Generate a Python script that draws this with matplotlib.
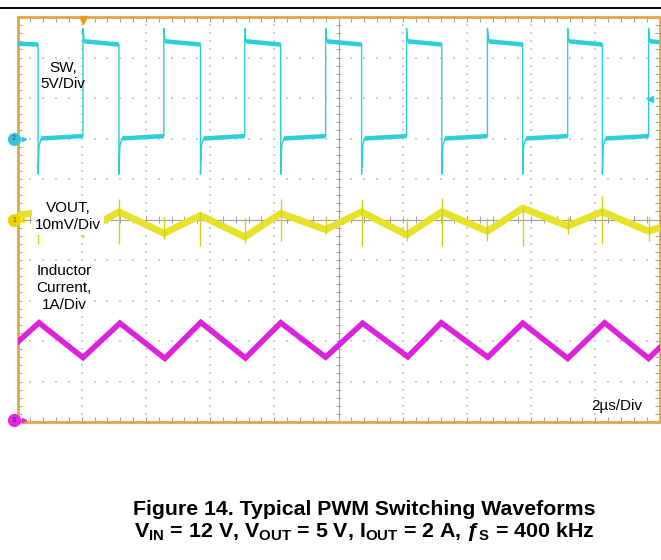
import matplotlib
matplotlib.use('Agg')
import matplotlib.pyplot as plt
import numpy as np
from matplotlib.collections import LineCollection
from matplotlib.lines import Line2D

plt.rcParams['font.family'] = ['Liberation Sans', 'DejaVu Sans']
plt.rcParams['mathtext.fontset'] = 'custom'
plt.rcParams['mathtext.rm'] = 'Liberation Sans'
plt.rcParams['mathtext.bf'] = 'Liberation Sans:bold'
plt.rcParams['mathtext.it'] = 'Liberation Sans:italic'

# ---------------- data ----------------
# time base: 2 us/div, 10 divisions
sw_fall_us = [0.64, 3.16, 5.70, 8.20, 10.72, 13.22, 15.74, 18.22]
sw_rise_us = [2.04, 4.56, 7.08, 9.60, 12.12, 14.64, 17.14, 19.66]
sw_high_v = [12.0, 11.6]          # start / end of on-time level (V)
sw_low_v = [0.0, 0.3]             # start / end of off-time level (V)
sw_overshoot_v = 13.6
sw_undershoot_v = -4.4
sw_ringback_v = -0.9

vout_t_us = [0, 0.64, 2.04, 3.16, 4.56, 5.70, 7.08, 8.20, 9.60, 10.72,
             12.12, 13.22, 14.64, 15.74, 17.14, 18.22, 19.66, 20]
vout_mv = [1.0, 1.8, -3.2, 1.9, -3.4, 1.0, -4.3, 1.5, -2.5, 1.9,
           -3.8, 1.9, -2.9, 2.8, -1.6, 1.9, -2.9, -2.0]
vout_fall_spike_hi = [4.5, 5.0, 1.9, 5.0, 5.0, 5.4, 3.0, 5.8]
vout_fall_spike_lo = [-6.0, -6.0, -6.5, -5.3, -6.5, -6.5, -6.5, -6.0]
vout_rise_spike_hi = [0.5, 0.6, 0.3, 0.6, 0.3, 0.3, 0.6, 0.6]
vout_rise_spike_lo = [-4.5, -4.7, -5.8, -3.5, -5.3, -5.3, -3.5, -5.3]

il_t_us = [0, 0.67, 2.04, 3.19, 4.59, 5.71, 7.10, 8.20, 9.60, 10.75,
           12.16, 13.20, 14.65, 15.74, 17.14, 18.29, 19.66, 20]
il_a = [1.97, 2.45, 1.59, 2.44, 1.57, 2.46, 1.58, 2.45, 1.60, 2.44,
        1.61, 2.45, 1.60, 2.44, 1.57, 2.45, 1.57, 1.83]

# channel scales / reference positions (divisions from bottom)
SW_VDIV, SW_REF = 5.0, 7.0
VOUT_MVDIV, VOUT_REF = 10.0, 5.0
IL_ADIV, IL_REF = 1.0, 0.0

C_SW = '#2ACFD8'
C_VOUT = '#E6E22A'
C_IL = '#DD22DD'
C_FRAME = '#E3A64A'
C_GRID = '#CFCFCF'
C_AX = '#A0A0A0'

W, H = 661, 560
fig = plt.figure(figsize=(W / 100, H / 100), dpi=100)
L, R, T, B = 17.5, 659.5, 17, 422
ax = fig.add_axes([L / W, 1 - B / H, (R - L) / W, (B - T) / H])
ax.set_xlim(0, 20)
ax.set_ylim(0, 10)
ax.set_xticks([])
ax.set_yticks([])
for s in ax.spines.values():
    s.set_color(C_FRAME)
    s.set_linewidth(2.0)

# dotted graticule
ys_fine = np.arange(0, 10.001, 0.2)
xs_fine = np.arange(0, 20.001, 0.4)
for k in range(1, 10):
    if k == 5:
        continue
    ax.scatter(np.full_like(ys_fine, 2 * k), ys_fine, s=0.8, marker='s',
               color=C_GRID, linewidths=0, zorder=1)
    ax.scatter(xs_fine, np.full_like(xs_fine, k), s=0.8, marker='s',
               color=C_GRID, linewidths=0, zorder=1)

# center axes with ticks
ax.axvline(10, color=C_AX, lw=0.8, zorder=1)
ax.axhline(5, color=C_AX, lw=0.8, zorder=1)
segs = []
for y in ys_fine:
    segs.append([(10 - 0.09, y), (10 + 0.09, y)])
    segs.append([(0, y), (0.13, y)])
    segs.append([(20, y), (19.87, y)])
for x in xs_fine:
    segs.append([(x, 5 - 0.08), (x, 5 + 0.08)])
    segs.append([(x, 10), (x, 9.88)])
    segs.append([(x, 0), (x, 0.12)])
ax.add_collection(LineCollection(segs, colors=C_AX, linewidths=0.7, zorder=1))

# ---------------- SW trace ----------------
def sw_d(v):
    return SW_REF + v / SW_VDIV

sw_t, sw_v = [0.0], [11.7]
high_segs, low_segs = [[(0.0, sw_d(11.7))]], []
events = sorted([(t, 'f') for t in sw_fall_us] + [(t, 'r') for t in sw_rise_us])
for t, kind in events:
    if kind == 'f':
        sw_t += [t, t, t + 0.03, t + 0.10]
        sw_v += [sw_high_v[1], sw_undershoot_v, sw_ringback_v, sw_low_v[0]]
        high_segs[-1].append((t, sw_d(sw_high_v[1])))
        low_segs.append([(t + 0.10, sw_d(sw_low_v[0]))])
    else:
        sw_t += [t, t, t + 0.04]
        sw_v += [sw_low_v[1], sw_overshoot_v, sw_high_v[0]]
        low_segs[-1].append((t, sw_d(sw_low_v[1])))
        high_segs.append([(t + 0.04, sw_d(sw_high_v[0]))])
sw_t.append(20.0)
sw_v.append(11.9)
high_segs[-1].append((20.0, sw_d(11.9)))
ax.plot(sw_t, [sw_d(v) for v in sw_v], color=C_SW, lw=1.0, zorder=3)
for seg in high_segs + low_segs:
    xs, ys = zip(*seg)
    ax.plot(xs, ys, color=C_SW, lw=3.2, zorder=3, solid_capstyle='butt')

# ---------------- VOUT trace ----------------
def vo_d(mv):
    return VOUT_REF + mv / VOUT_MVDIV

ax.plot(vout_t_us, [vo_d(v) for v in vout_mv], color=C_VOUT, lw=5.0, zorder=3)
ax.vlines(sw_fall_us, [vo_d(v) for v in vout_fall_spike_lo],
          [vo_d(v) for v in vout_fall_spike_hi], color='#D8D010', lw=1.0, zorder=3)
ax.vlines(sw_rise_us, [vo_d(v) for v in vout_rise_spike_lo],
          [vo_d(v) for v in vout_rise_spike_hi], color='#D8D010', lw=1.0, zorder=3)

# ---------------- inductor current ----------------
ax.plot(il_t_us, [IL_REF + a / IL_ADIV for a in il_a], color=C_IL, lw=4.0,
        zorder=3, solid_joinstyle='miter')

# ---------------- channel markers ----------------
def px_to_data(x, y):
    return (x - L) / (R - L) * 20, 10 - (y - T) / (B - T) * 10

for (py, col, lab, tcol) in [(139, '#38C4D4', '2', '#1A5A70'),
                             (220, '#E8D400', '1', '#5A5000'),
                             (420, '#E028E0', '3', '#6A006A')]:
    mx, my = px_to_data(14, py)
    ax.plot([mx], [my], 'o', ms=8.5, color=col, clip_on=False, zorder=6)
    ax.text(mx, my, lab, fontsize=5, color=tcol, ha='center', va='center',
            clip_on=False, zorder=7)
    ax2x, _ = px_to_data(24, py)
    ax.plot([mx + 0.15, ax2x], [my, my], color=col, lw=1.0, clip_on=False, zorder=6)
    ax.plot([ax2x], [my], '>', ms=3, color=col, clip_on=False, zorder=6)

tx, ty = px_to_data(83, 20)
ax.plot([tx], [ty], 'v', ms=6, color='#EE9A22', clip_on=False, zorder=6)
lx, ly = px_to_data(650, 99)
ax.plot([lx], [ly], '<', ms=4, color=C_SW, clip_on=False, zorder=6)

# ---------------- labels ----------------
def ftext(x, y, s, **kw):
    return fig.text(x / W, 1 - y / H, s, **kw)

ftext(63, 76, 'SW,\n5V/Div', fontsize=11, ha='center', va='center',
      multialignment='center', linespacing=1.24, zorder=8)
ftext(68, 216.5, 'VOUT,\n10mV/Div', fontsize=11, ha='center', va='center',
      multialignment='center', linespacing=1.24, zorder=8,
      bbox=dict(facecolor='white', edgecolor='none', pad=2))
ftext(64, 288, 'Inductor\nCurrent,\n1A/Div', fontsize=11, ha='center', va='center',
      multialignment='center', linespacing=1.24, zorder=8,
      bbox=dict(facecolor='white', edgecolor='none', pad=2))
ftext(617, 406, '2\u00b5s/Div', fontsize=11, ha='center', va='center', zorder=8)

# top rule
fig.add_artist(Line2D([0, 1], [1 - 8 / H, 1 - 8 / H], color='black', lw=1.4,
                      transform=fig.transFigure))

# caption
ftext(364.5, 515, 'Figure 14. Typical PWM Switching Waveforms', fontsize=15.3,
      fontweight='bold', ha='center', va='baseline')
ftext(364.5, 537, r'$\mathbf{V_{IN}}$ = 12 V, $\mathbf{V_{OUT}}$ = 5 V, '
      r'$\mathbf{I_{OUT}}$ = 2 A, ƒ${}_\mathbf{S}$ = 400 kHz', fontsize=15.4,
      fontweight='bold', ha='center', va='baseline')

fig.savefig('out.png', dpi=100)
